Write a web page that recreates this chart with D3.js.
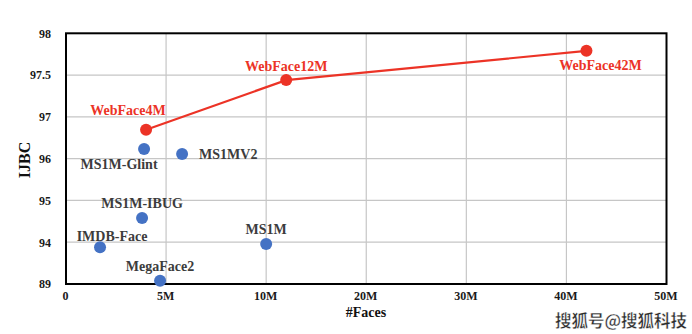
<!DOCTYPE html>
<html><head><meta charset="utf-8">
<script src="https://cdn.jsdelivr.net/npm/d3@7"></script>
<style>
html,body{margin:0;padding:0;background:#fff;}
svg{display:block;}
text{font-family:"Liberation Serif","Times New Roman",serif;font-weight:bold;}
</style></head>
<body>
<script>
const xTicks = [0, 5, 10, 20, 30, 40, 50];
const xTickLabels = ["0", "5M", "10M", "20M", "30M", "40M", "50M"];
const yTicks = [89, 94, 95, 96, 97, 97.5, 98];
const yTickLabels = ["89", "94", "95", "96", "97", "97.5", "98"];

const webNames = ["WebFace4M", "WebFace12M", "WebFace42M"];
const webFaces = [4, 12, 42];
const webIJBC = [96.69, 97.44, 97.79];

const otherNames = ["MS1M-Glint", "MS1MV2", "MS1M-IBUG", "IMDB-Face", "MS1M", "MegaFace2"];
const otherFaces = [3.9, 5.8, 3.8, 1.7, 10.0, 4.7];
const otherIJBC = [96.23, 96.11, 94.58, 93.4, 93.8, 89.4];

const W = 692, H = 334;
const m = {left: 66, right: 25.5, top: 33.3, bottom: 50};
const pw = W - m.left - m.right, ph = H - m.top - m.bottom;

const x = d3.scaleLinear().domain(xTicks)
  .range(xTicks.map((d, i) => m.left + i * pw / (xTicks.length - 1)));
const y = d3.scaleLinear().domain(yTicks)
  .range(yTicks.map((d, i) => H - m.bottom - i * ph / (yTicks.length - 1)));

const svg = d3.select("body").append("svg").attr("width", W).attr("height", H);

// grid
svg.append("g").selectAll("line").data(yTicks.slice(1, -1)).join("line")
  .attr("x1", m.left).attr("x2", W - m.right)
  .attr("y1", d => y(d)).attr("y2", d => y(d))
  .attr("stroke", "#c6c6c6").attr("stroke-width", 1.2);
svg.append("g").selectAll("line").data(xTicks.slice(1, -1)).join("line")
  .attr("y1", m.top).attr("y2", H - m.bottom)
  .attr("x1", d => x(d)).attr("x2", d => x(d))
  .attr("stroke", "#c6c6c6").attr("stroke-width", 1.2);

// frame
svg.append("rect").attr("x", m.left).attr("y", m.top).attr("width", pw).attr("height", ph)
  .attr("fill", "none").attr("stroke", "#000").attr("stroke-width", 2);

// axes
const xAxis = d3.axisBottom(x).tickValues(xTicks).tickFormat((d, i) => xTickLabels[i]).tickSize(0).tickPadding(7);
const gx = svg.append("g").attr("transform", `translate(-1,${H - m.bottom})`).call(xAxis);
gx.select(".domain").remove();
gx.selectAll("text").attr("font-size", 12).attr("fill", "#1a1a1a")
  .style("font-family", '"Liberation Serif","Times New Roman",serif').style("font-weight", "bold");

const yAxis = d3.axisLeft(y).tickValues(yTicks).tickFormat((d, i) => yTickLabels[i]).tickSize(0).tickPadding(15);
const gy = svg.append("g").attr("transform", `translate(${m.left},0)`).call(yAxis);
gy.select(".domain").remove();
gy.selectAll("text").attr("font-size", 12).attr("fill", "#1a1a1a")
  .style("font-family", '"Liberation Serif","Times New Roman",serif').style("font-weight", "bold");

// axis titles
svg.append("text").attr("transform", `translate(24,160) rotate(-90)`)
  .attr("text-anchor", "middle").attr("dominant-baseline", "central")
  .attr("font-size", 16).attr("fill", "#111").text("IJBC");
svg.append("text").attr("x", 366).attr("y", 312).attr("text-anchor", "middle")
  .attr("dominant-baseline", "central")
  .attr("font-size", 14).attr("fill", "#111").text("#Faces");

// red line
const red = "#ec3326", blue = "#4472c4";
const webData = webNames.map((n, i) => ({n, f: webFaces[i], v: webIJBC[i]}));
svg.append("path").datum(webData)
  .attr("d", d3.line().x(d => x(d.f)).y(d => y(d.v)))
  .attr("fill", "none").attr("stroke", red).attr("stroke-width", 2.2);
svg.append("g").selectAll("circle").data(webData).join("circle")
  .attr("cx", d => x(d.f)).attr("cy", d => y(d.v)).attr("r", 6).attr("fill", red);

const otherData = otherNames.map((n, i) => ({n, f: otherFaces[i], v: otherIJBC[i]}));
svg.append("g").selectAll("circle").data(otherData).join("circle")
  .attr("cx", d => x(d.f)).attr("cy", d => y(d.v)).attr("r", 6).attr("fill", blue);

// labels (offsets relative to points)
const webOff = [[-18, -19], [0, -14], [14, 15]];
svg.append("g").selectAll("text").data(webData).join("text")
  .attr("x", (d, i) => x(d.f) + webOff[i][0]).attr("y", (d, i) => y(d.v) + webOff[i][1])
  .attr("text-anchor", "middle").attr("dominant-baseline", "central")
  .attr("font-size", 14).attr("fill", red).text(d => d.n);

const otherOff = [[-25, 15, "middle"], [17, 0, "start"], [0, -14, "middle"], [12, -11, "middle"], [0, -14, "middle"], [0, -14, "middle"]];
svg.append("g").selectAll("text").data(otherData).join("text")
  .attr("x", (d, i) => x(d.f) + otherOff[i][0]).attr("y", (d, i) => y(d.v) + otherOff[i][1])
  .attr("text-anchor", (d, i) => otherOff[i][2]).attr("dominant-baseline", "central")
  .attr("font-size", 14).attr("fill", "#3c3c3c").text(d => d.n);

// watermark
svg.append("text").attr("x", 687).attr("y", 320).attr("text-anchor", "end")
  .attr("dominant-baseline", "central")
  .style("font-family", '"Noto Sans CJK SC",sans-serif').style("font-weight", "bold")
  .attr("font-size", 16.5).attr("fill", "#2a2a2a").attr("stroke", "#fff").attr("stroke-width", 0.4)
  .text("搜狐号@搜狐科技");
</script>
</body></html>
